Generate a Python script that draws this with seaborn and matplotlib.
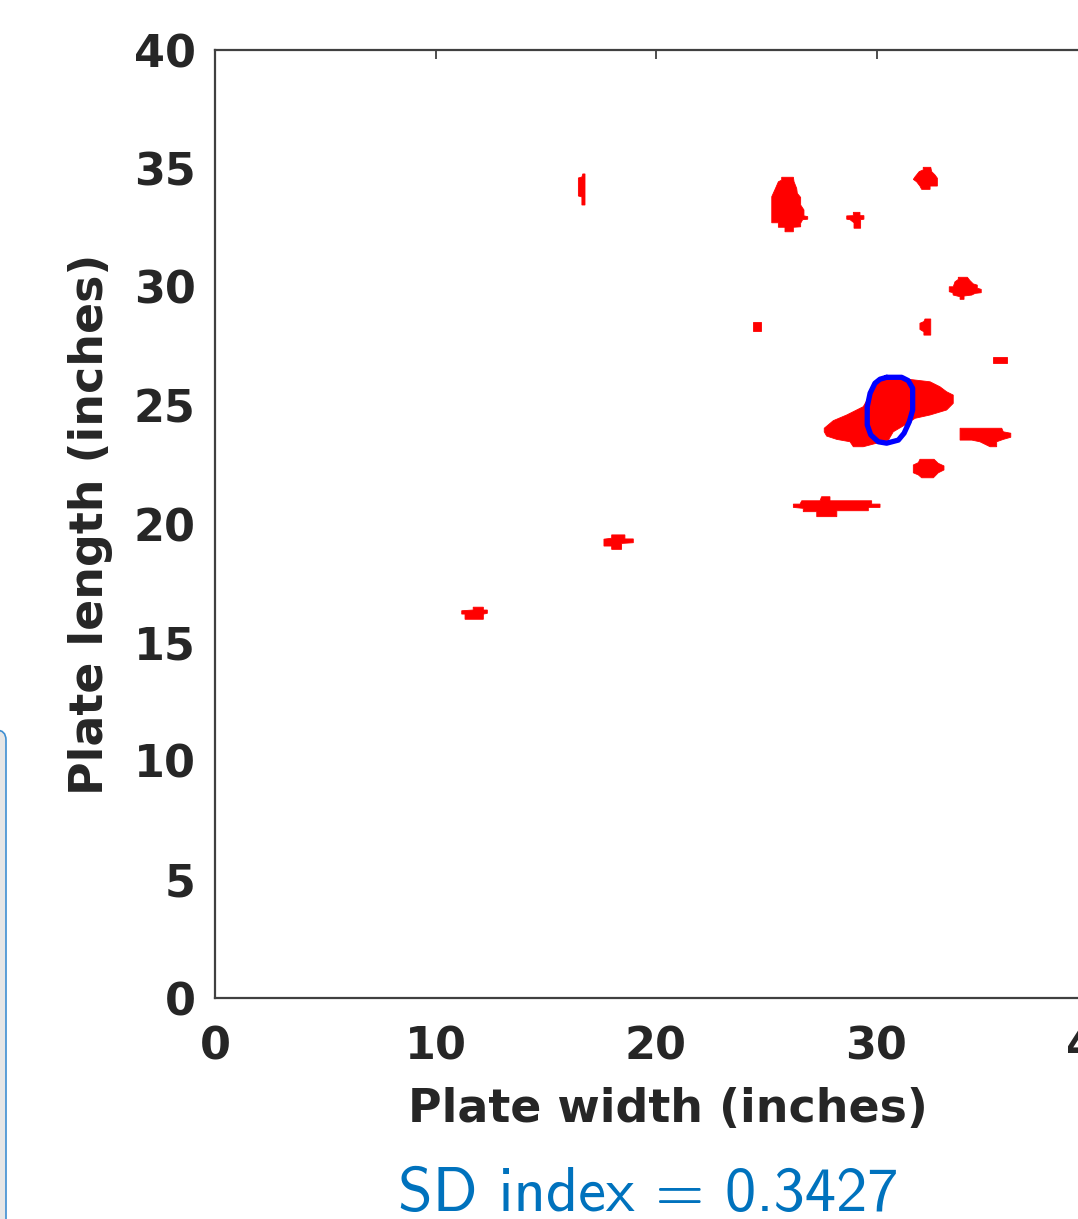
import numpy as np
import matplotlib
matplotlib.use("Agg")
import matplotlib.pyplot as plt
from matplotlib.patches import FancyBboxPatch
import seaborn as sns

# red regions of the defect map, outlines in inches (x = width, y = length)
blob_top_x = [25.70, 26.23, 26.26, 26.38, 26.41, 26.56, 26.56, 26.71, 26.71, 26.88, 26.88, 26.65,
              26.56, 26.56, 26.23, 26.23, 25.85, 25.85, 25.55, 25.55, 25.25, 25.25, 25.40, 25.55, 25.70]
blob_top_y = [34.63, 34.63, 34.44, 34.16, 33.95, 33.78, 33.46, 33.25, 33.00, 32.97, 32.86, 32.84,
              32.69, 32.54, 32.52, 32.33, 32.33, 32.52, 32.52, 32.71, 32.71, 33.81, 34.12, 34.44, 34.51]

blob_small_x = [28.95, 29.25, 29.25, 29.43, 29.43, 29.28, 29.28, 28.98, 28.98, 28.80, 28.65, 28.65, 28.95]
blob_small_y = [33.15, 33.15, 33.01, 33.01, 32.86, 32.84, 32.48, 32.48, 32.71, 32.84, 32.86, 33.00, 33.01]

blob_corner_x = [32.12, 32.46, 32.50, 32.65, 32.76, 32.76, 32.43, 32.43, 32.05, 31.97, 31.82, 31.67,
                 31.75, 31.94, 32.12]
blob_corner_y = [35.05, 35.05, 34.87, 34.73, 34.59, 34.26, 34.26, 34.12, 34.12, 34.26, 34.44, 34.54,
                 34.65, 34.87, 34.94]

blob_right_x = [33.71, 34.12, 34.24, 34.39, 34.57, 34.57, 34.75, 34.75, 34.47, 34.32, 33.97, 33.97,
                33.79, 33.79, 33.48, 33.46, 33.30, 33.30, 33.48, 33.56, 33.71]
blob_right_y = [30.41, 30.41, 30.27, 30.13, 30.08, 29.95, 29.90, 29.76, 29.73, 29.66, 29.62, 29.48,
                29.48, 29.59, 29.66, 29.76, 29.80, 30.01, 30.01, 30.22, 30.32]

blob_dot_x = [24.40, 24.76, 24.76, 24.40]
blob_dot_y = [28.52, 28.52, 28.14, 28.14]

blob_mid_x = [32.20, 32.46, 32.46, 32.15, 32.15, 31.97, 31.97, 32.15]
blob_mid_y = [28.65, 28.65, 27.97, 27.97, 28.11, 28.21, 28.47, 28.54]

blob_edge_x = [35.28, 35.92, 35.92, 35.28]
blob_edge_y = [27.05, 27.05, 26.80, 26.80]

blob_main_x = [27.63, 28.04, 28.65, 29.40, 30.01, 30.61, 31.52, 32.43, 32.88, 33.18, 33.48, 33.48,
               33.18, 32.43, 31.75, 31.29, 30.76, 30.54, 29.40, 28.95, 28.80, 28.20, 27.74, 27.63]
blob_main_y = [24.04, 24.36, 24.60, 24.95, 25.94, 26.24, 26.10, 26.00, 25.79, 25.58, 25.44, 25.09,
               24.81, 24.60, 24.46, 24.18, 23.89, 23.54, 23.26, 23.26, 23.47, 23.57, 23.71, 23.89]

blob_bar_x = [33.79, 35.68, 35.75, 36.09, 36.09, 35.75, 35.45, 35.45, 35.15, 34.69, 34.32, 33.79]
blob_bar_y = [24.04, 24.04, 23.89, 23.83, 23.66, 23.57, 23.47, 23.26, 23.26, 23.47, 23.54, 23.54]

blob_low_x = [31.97, 32.61, 32.80, 33.06, 33.06, 32.80, 32.58, 32.05, 31.90, 31.67, 31.67, 31.90]
blob_low_y = [22.73, 22.73, 22.56, 22.45, 22.28, 22.16, 21.95, 21.95, 22.07, 22.16, 22.49, 22.59]

blob_strip_x = [26.23, 26.53, 26.61, 27.44, 27.51, 27.89, 27.89, 29.78, 29.78, 30.16, 30.16, 29.63,
                29.63, 28.20, 28.20, 27.29, 27.29, 26.68, 26.68, 26.23]
blob_strip_y = [20.84, 20.84, 20.98, 20.98, 21.15, 21.15, 20.98, 20.98, 20.84, 20.84, 20.70, 20.70,
                20.56, 20.56, 20.31, 20.31, 20.52, 20.52, 20.66, 20.70]

blob_line_x = [16.68, 16.78, 16.78, 16.64, 16.64, 16.48, 16.48, 16.64]
blob_line_y = [34.77, 34.77, 33.46, 33.46, 33.80, 33.84, 34.60, 34.64]

blob_left_x = [17.99, 18.59, 18.59, 18.97, 18.97, 18.44, 18.44, 17.99, 17.99, 17.64, 17.64, 17.99]
blob_left_y = [19.54, 19.54, 19.37, 19.37, 19.21, 19.18, 18.93, 18.93, 19.07, 19.07, 19.36, 19.40]

blob_far_x = [11.71, 12.17, 12.17, 12.35, 12.35, 12.17, 12.17, 11.34, 11.34, 11.19, 11.19, 11.71]
blob_far_y = [16.49, 16.49, 16.37, 16.37, 16.23, 16.20, 15.98, 15.98, 16.20, 16.20, 16.34, 16.37]

# blue outline of the selected region
outline_x = [30.46, 31.14, 31.44, 31.64, 31.64, 31.49, 31.25, 30.99, 30.46, 30.08, 29.74, 29.58,
             29.58, 29.71, 29.93, 30.16, 30.46]
outline_y = [26.19, 26.19, 26.05, 25.73, 24.81, 24.32, 23.83, 23.54, 23.41, 23.47, 23.76, 24.18,
             24.95, 25.52, 25.94, 26.11, 26.19]

x_ticks = [0, 10, 20, 30, 40]
y_ticks = [0, 5, 10, 15, 20, 25, 30, 35, 40]
sd_index = 0.3427

blobs = [
    (blob_top_x, blob_top_y), (blob_small_x, blob_small_y), (blob_corner_x, blob_corner_y),
    (blob_right_x, blob_right_y), (blob_dot_x, blob_dot_y), (blob_mid_x, blob_mid_y),
    (blob_edge_x, blob_edge_y), (blob_main_x, blob_main_y), (blob_bar_x, blob_bar_y),
    (blob_low_x, blob_low_y), (blob_strip_x, blob_strip_y), (blob_line_x, blob_line_y),
    (blob_left_x, blob_left_y), (blob_far_x, blob_far_y),
]

sns.set_theme(style="white")
plt.rcParams["font.family"] = ["DejaVu Sans"]

W, H = 1078, 1219
fig = plt.figure(figsize=(W / 100, H / 100), dpi=100)
ax = fig.add_axes([215 / W, 221 / H, 882 / W, 948 / H])

for bx, by in blobs:
    ax.fill(bx, by, color="#ff0000", lw=0.6, ec="#ff0000", zorder=2)

sns.lineplot(x=outline_x, y=outline_y, sort=False, color="#0000ff", lw=3.8,
             estimator=None, ax=ax, zorder=3)

ax.set_xlim(0, 40)
ax.set_ylim(0, 40)
ax.set_xticks(x_ticks)
ax.set_yticks(y_ticks)
ax.set_xticklabels([str(t) for t in x_ticks])
ax.set_yticklabels([str(t) for t in y_ticks])

dark = "#262626"
for s in ax.spines.values():
    s.set_color("#404040")
    s.set_linewidth(1.6)
ax.tick_params(direction="in", length=6.5, width=1.3, color="#404040",
               top=True, right=True, labelsize=32, labelcolor=dark)
ax.tick_params(axis="x", pad=20)
ax.tick_params(axis="y", pad=14)
for lab in ax.get_xticklabels() + ax.get_yticklabels():
    lab.set_fontweight("bold")

ax.set_xlabel("Plate width (inches)", fontsize=33, fontweight="bold", color=dark)
ax.set_ylabel("Plate length (inches)", fontsize=33, fontweight="bold", color=dark)
ax.xaxis.set_label_coords(0.514, -0.094)
ax.yaxis.set_label_coords(-0.116, 0.50)

fig.text(648 / W, 1 - 1211 / H, "SD index = %.4f" % sd_index, family="cmss10",
         color="#0072bd", fontsize=45, ha="center", va="baseline")

# panel edge showing at the left border
panel = FancyBboxPatch((-0.4, -0.4), 0.46, (H - 730) / 100 + 0.4,
                       boxstyle="round,pad=0,rounding_size=0.1",
                       transform=fig.dpi_scale_trans, fc="#e6e6e6", ec="#3f8fd2", lw=1.2)
fig.patches.append(panel)

fig.savefig("out.png", dpi=100)
